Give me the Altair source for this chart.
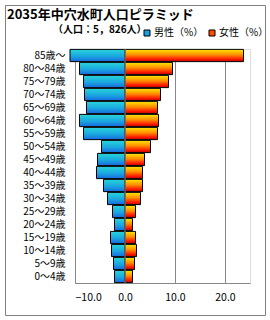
import altair as alt
import pandas as pd

title_text = "2035年中穴水町人口ピラミッド"
subtitle_text = "（人口：5，826人）"
ages = ["85歳～", "80～84歳", "75～79歳", "70～74歳", "65～69歳", "60～64歳",
        "55～59歳", "50～54歳", "45～49歳", "40～44歳", "35～39歳", "30～34歳",
        "25～29歳", "20～24歳", "15～19歳", "10～14歳", "5～9歳", "0～4歳"]
male = [11.0, 9.1, 8.3, 8.1, 7.7, 9.1, 8.3, 4.7, 5.5, 5.7, 4.3, 3.5, 2.5, 2.1, 2.9, 2.7, 2.3, 2.1]
female = [23.7, 9.5, 8.7, 7.1, 6.5, 6.7, 6.5, 5.1, 3.9, 3.5, 3.5, 3.1, 2.1, 1.5, 2.1, 2.3, 1.9, 1.5]
sexes = ["男性（%）", "女性（%）"]
x_ticks = [-10, 0, 10, 20]

FONT = "Noto Sans CJK JP"

df = pd.DataFrame({
    "age": ages + ages,
    "sex": [sexes[0]] * len(ages) + [sexes[1]] * len(ages),
    "value": [-m for m in male] + female,
})

male_grad = alt.LinearGradient(
    gradient="linear", x1=0, x2=0, y1=0, y2=1,
    stops=[alt.GradientStop(color="#28d4d8", offset=0),
           alt.GradientStop(color="#1aa8e0", offset=0.55),
           alt.GradientStop(color="#1868e0", offset=1)])
female_grad = alt.LinearGradient(
    gradient="linear", x1=0, x2=0, y1=0, y2=1,
    stops=[alt.GradientStop(color="#ffe800", offset=0),
           alt.GradientStop(color="#ff8c00", offset=0.45),
           alt.GradientStop(color="#ff1a00", offset=0.8),
           alt.GradientStop(color="#b80000", offset=1)])

x = alt.X("value:Q",
          scale=alt.Scale(domain=[-10, 25], nice=False, zero=True),
          axis=alt.Axis(values=x_ticks, format=".1f", title=None, grid=True,
                        gridColor="#888888", ticks=False, domainColor="#888888",
                        labelFontSize=10.5, labelPadding=9, labelColor="#000000",
                        labelFont=FONT))
y = alt.Y("age:N", sort=ages,
          scale=alt.Scale(paddingInner=0.06, paddingOuter=0.03),
          axis=alt.Axis(title=None, ticks=False, domainColor="#888888",
                        labelPadding=10, labelFontSize=10, grid=False,
                        labelColor="#000000", labelFont=FONT))

base = alt.Chart(df)
male_bars = base.transform_filter(alt.datum.sex == sexes[0]).mark_bar(
    fill=male_grad, stroke="black", strokeWidth=1).encode(x=x, y=y)
female_bars = base.transform_filter(alt.datum.sex == sexes[1]).mark_bar(
    fill=female_grad, stroke="black", strokeWidth=1).encode(x=x, y=y)

zero_rule = alt.Chart(pd.DataFrame({"z": [0]})).mark_rule(
    color="#909090", strokeWidth=1).encode(x=alt.X("z:Q"))

legend_layer = base.mark_square(opacity=0, size=1).encode(
    x=x, y=y,
    color=alt.Color("sex:N",
                    scale=alt.Scale(domain=sexes, range=["#1a9ee0", "#ff4a00"]),
                    legend=alt.Legend(title=None, orient="none", legendX=67,
                                      legendY=-21, direction="horizontal",
                                      symbolType="square", symbolSize=36,
                                      symbolStrokeColor="black",
                                      symbolStrokeWidth=1, symbolOpacity=1,
                                      labelFontSize=10, labelOffset=2,
                                      columnPadding=3, labelFont=FONT,
                                      labelColor="#000000")))

title_layer = alt.Chart(pd.DataFrame({"t": [title_text]})).mark_text(
    align="left", baseline="middle", fontSize=13, fontWeight="bold",
    font=FONT, color="#000000").encode(
    text="t:N", x=alt.value(-68), y=alt.value(-34))
subtitle_layer = alt.Chart(pd.DataFrame({"t": [subtitle_text]})).mark_text(
    align="left", baseline="middle", fontSize=10, fontWeight="bold",
    font=FONT, color="#000000").encode(
    text="t:N", x=alt.value(-22), y=alt.value(-19))

frame = alt.Chart(pd.DataFrame({"f": [0]})).mark_rect(
    filled=False, stroke="#808080", strokeWidth=1).encode(
    x=alt.value(-69.5), x2=alt.value(190.5), y=alt.value(-43.5), y2=alt.value(266.5))

chart = alt.layer(
    male_bars, female_bars, zero_rule, legend_layer,
    title_layer, subtitle_layer, frame
).properties(
    width=175, height=234,
    padding={"left": 75, "top": 49, "right": 20, "bottom": 37},
    autosize=alt.AutoSizeParams(type="none"),
).configure_view(strokeWidth=0).configure(font=FONT)

chart.save("out.html", embed_options={"renderer": "svg", "actions": False})
